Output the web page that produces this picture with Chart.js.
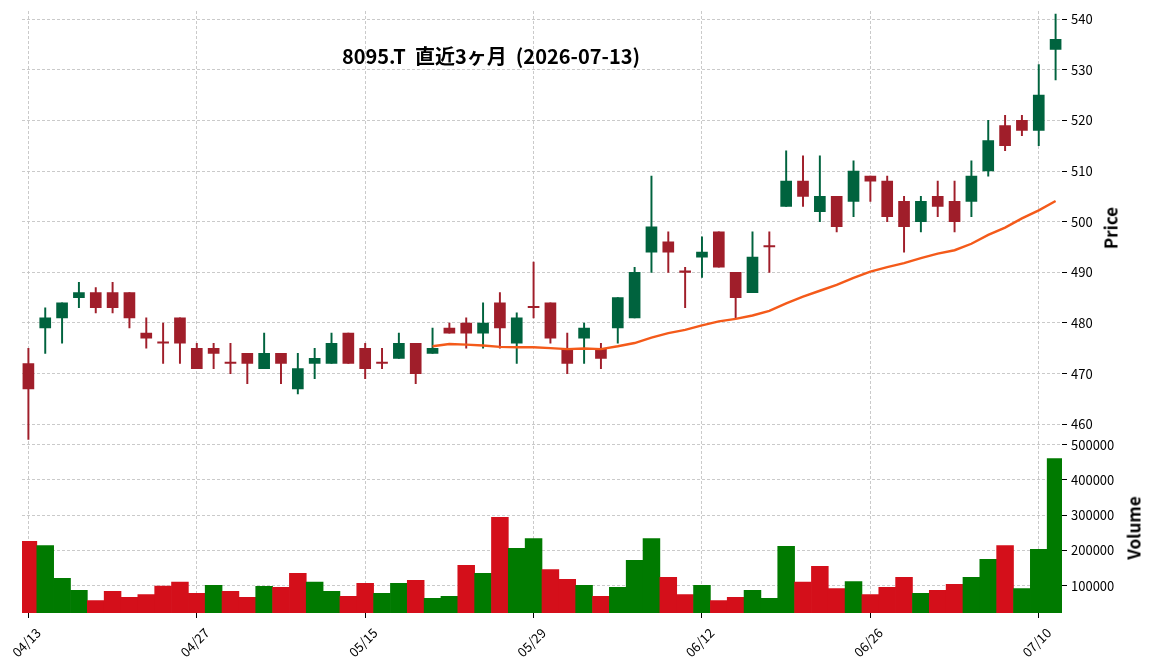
<!DOCTYPE html>
<html>
<head>
<meta charset="utf-8">
<script src="https://cdn.jsdelivr.net/npm/chart.js@4.4.0/dist/chart.umd.min.js"></script>
<style>
  body { margin: 0; background: #fff; }
  #wrap { position: relative; width: 1152px; height: 670px; font-family: 'Noto Sans CJK JP', 'Noto Sans', sans-serif; color: #000; }
  #chart { display: block; }
  #title { position: absolute; left: 491px; top: 55px; transform: translate(-50%, -50%); font-size: 20px; font-weight: bold; white-space: pre; }
  .ylab { position: absolute; transform: translate(-50%, -50%) rotate(-90deg); font-size: 17px; font-weight: bold; white-space: nowrap; }
</style>
</head>
<body>
<div id="wrap">
  <canvas id="chart" width="1152" height="670"></canvas>
  <div id="title">8095.T  直近3ヶ月  (2026-07-13)</div>
  <div class="ylab" style="left:1110px; top:228px">Price</div>
  <div class="ylab" style="left:1133px; top:528px">Volume</div>
</div>
<script>
// trading days shown (2026)
const dates = ['04/13','04/14','04/15','04/16','04/17','04/20','04/21','04/22','04/23','04/24',
  '04/27','04/28','04/30','05/01','05/07','05/08','05/11','05/12','05/13','05/14',
  '05/15','05/18','05/19','05/20','05/21','05/22','05/25','05/26','05/27','05/28',
  '05/29','06/01','06/02','06/03','06/04','06/05','06/08','06/09','06/10','06/11',
  '06/12','06/15','06/16','06/17','06/18','06/19','06/22','06/23','06/24','06/25',
  '06/26','06/29','06/30','07/01','07/02','07/03','07/06','07/07','07/08','07/09',
  '07/10','07/13'];

const opens = [472,479,481,485,486,486,486,478,476,481,
  475,475,472,474,471,474,467,472,472,478,
  475,472,473,476,474,479,480,478,484,476,
  483,484,475,477,475,479,481,494,496,490,
  493,498,490,486,495,503,508,502,505,504,
  509,508,504,500,505,504,504,510,519,520,
  518,534];
const highs = [475,483,484,488,487,488,486,481,480,481,
  476,476,476,474,478,474,474,475,478,478,
  476,475,478,476,479,480,481,484,486,482,
  492,484,478,480,476,485,491,509,498,491,
  497,498,490,498,498,514,513,513,505,512,
  509,509,505,505,508,508,512,520,521,521,
  531,541];
const lows = [457,474,476,483,482,482,479,475,472,472,
  471,471,470,468,471,468,466,469,472,472,
  469,471,473,468,474,478,475,475,475,472,
  481,476,470,472,471,476,481,490,490,483,
  489,491,481,486,490,503,503,500,498,501,
  504,500,494,498,501,498,501,509,514,517,
  515,528];
const closes = [467,481,484,486,483,483,481,477,476,476,
  471,474,472,472,474,472,471,473,476,472,
  471,472,476,470,475,478,478,480,479,481,
  483,477,472,479,473,485,490,499,494,490,
  494,491,485,493,495,508,505,505,499,510,
  508,501,499,504,503,500,509,516,515,518,
  525,536];
const volumes = [226000,214000,121000,87000,58000,84000,67000,75000,99000,110000,
  78000,101000,84000,67000,98000,95000,135000,110000,84000,70000,
  107000,78000,107000,115000,64000,70000,158000,135000,294000,206000,
  234000,146000,118000,101000,70000,95000,172000,234000,124000,75000,
  101000,58000,67000,87000,64000,212000,110000,155000,92000,112000,
  75000,95000,124000,78000,87000,104000,124000,175000,214000,92000,
  203000,461000];
// 25-day moving average line as drawn
const ma25 = [null,null,null,null,null,null,null,null,null,null,
  null,null,null,null,null,null,null,null,null,null,
  null,null,null,null,475.40,475.84,475.72,475.56,475.28,475.20,
  475.20,475.04,474.84,474.96,474.84,475.40,476.04,477.12,478.00,478.64,
  479.52,480.32,480.80,481.48,482.40,483.88,485.20,486.36,487.52,488.92,
  490.12,491.04,491.80,492.80,493.68,494.36,495.64,497.40,498.84,500.64,
  502.24,504.08];

const priceTicks = [460, 470, 480, 490, 500, 510, 520, 530, 540];
const volumeTicks = [100000, 200000, 300000, 400000, 500000];
const dateTicks = [0, 10, 20, 30, 40, 50, 60];

const UP = '#00633e', DOWN = '#a01e2a';
const VOL_UP = '#007a00', VOL_DOWN = '#d40f1a';
const candleColors = closes.map((c, i) => c > opens[i] ? UP : DOWN);
const volColors = closes.map((c, i) => (i > 0 && c > closes[i - 1]) ? VOL_UP : VOL_DOWN);

Chart.defaults.font.family = "'Noto Sans CJK JP', 'Noto Sans', sans-serif";
Chart.defaults.font.size = 13;
Chart.defaults.color = '#000';

const gridOpts = { color: '#c4c4c4', lineWidth: 0.9, tickColor: '#000', tickLength: 5, tickWidth: 1, offset: false };
const borderOpts = { display: false, dash: [3, 2] };

new Chart(document.getElementById('chart'), {
    data: {
        datasets: [
            {
                type: 'line',
                label: 'MA25',
                data: ma25.map((v, i) => ({ x: i, y: v })),
                yAxisID: 'y',
                borderColor: '#f45a1a',
                borderWidth: 2.4,
                pointRadius: 0,
                tension: 0
            },
            {
                type: 'bar',
                label: 'body',
                data: opens.map((o, i) => ({ x: i, y: [o, closes[i]] })),
                yAxisID: 'y',
                backgroundColor: candleColors,
                barThickness: 11,
                minBarLength: 1.5,
                grouped: false
            },
            {
                type: 'bar',
                label: 'wick',
                data: lows.map((l, i) => ({ x: i, y: [l, highs[i]] })),
                yAxisID: 'y',
                backgroundColor: candleColors,
                barThickness: 1.3,
                grouped: false
            },
            {
                type: 'bar',
                label: 'Volume',
                data: volumes.map((v, i) => ({ x: i, y: v })),
                yAxisID: 'yv',
                backgroundColor: volColors,
                barPercentage: 1,
                categoryPercentage: 1,
                grouped: false
            }
        ]
    },
    options: {
        responsive: false,
        animation: false,
        events: [],
        layout: { padding: { top: 11, left: 22, right: 0, bottom: 0 } },
        plugins: { legend: { display: false }, tooltip: { enabled: false } },
        scales: {
            x: {
                type: 'linear',
                offset: false,
                min: -0.38,
                max: 61.38,
                afterBuildTicks: s => { s.ticks = dateTicks.map(v => ({ value: v })); },
                afterFit: s => { s.height = 57; s.paddingLeft = 0; s.paddingRight = 0; },
                ticks: {
                    callback: v => dates[v],
                    minRotation: 45,
                    maxRotation: 45,
                    labelOffset: 10,
                    padding: 7,
                    autoSkip: false
                },
                grid: gridOpts,
                border: borderOpts
            },
            y: {
                type: 'linear',
                position: 'right',
                stack: 'panels',
                stackWeight: 432.5,
                min: 456.2,
                max: 541.6,
                afterBuildTicks: s => { s.ticks = priceTicks.map(v => ({ value: v })); },
                afterFit: s => { s.width = 90; s.paddingTop = 0; s.paddingBottom = 0; },
                ticks: { padding: 4 },
                grid: gridOpts,
                border: borderOpts
            },
            yv: {
                type: 'linear',
                position: 'right',
                stack: 'panels',
                stackWeight: 169.5,
                min: 22500,
                max: 503500,
                afterBuildTicks: s => { s.ticks = volumeTicks.map(v => ({ value: v })); },
                afterFit: s => { s.width = 90; s.paddingTop = 0; s.paddingBottom = 0; },
                ticks: { padding: 4, callback: v => String(v) },
                grid: gridOpts,
                border: borderOpts
            }
        }
    }
});
</script>
</body>
</html>
